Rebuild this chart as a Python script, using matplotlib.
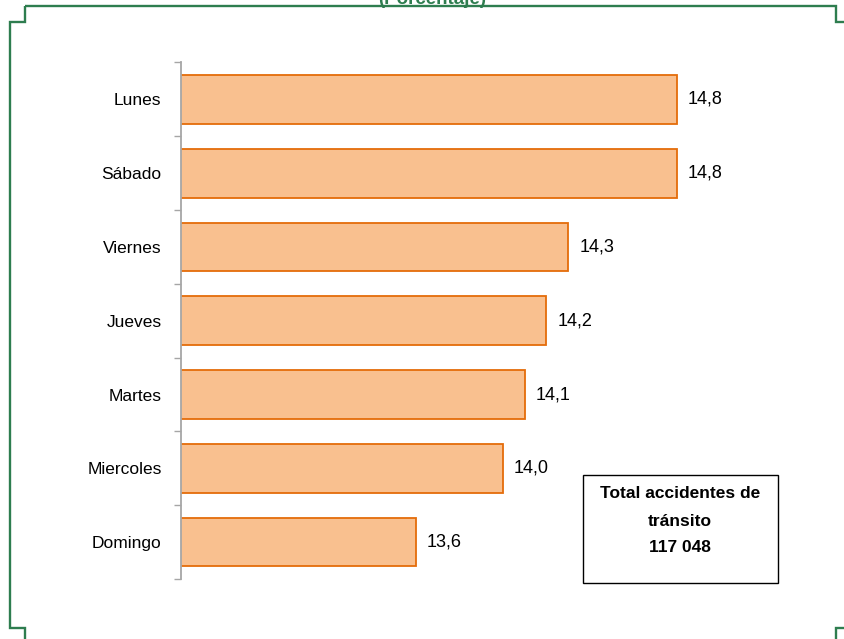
import matplotlib
matplotlib.use("Agg")
import matplotlib.pyplot as plt
from matplotlib.lines import Line2D
from matplotlib.patches import Rectangle

plt.rcParams['font.family'] = ['Liberation Sans', 'DejaVu Sans']

# data
days = ["Lunes", "Sábado", "Viernes", "Jueves", "Martes", "Miercoles", "Domingo"]
values = [14.8, 14.8, 14.3, 14.2, 14.1, 14.0, 13.6]
value_labels = ["14,8", "14,8", "14,3", "14,2", "14,1", "14,0", "13,6"]
subtitle = "(Porcentaje)"
box_lines = ["Total accidentes de", "tránsito", "117 048"]

W, H = 844, 639
GREEN = "#2E7D4F"
BAR_FILL = "#F9C08F"
BAR_EDGE = "#E46C0A"
AXIS_GRAY = "#A6A6A6"

def fx(px):
    return px / W

def fy(py):
    return 1 - py / H

fig = plt.figure(figsize=(W / 100, H / 100), dpi=100)
ax = fig.add_axes([fx(181), fy(579), fx(790) - fx(181), fy(62.5) - fy(579)])

pos = list(range(len(days)))
ax.barh(pos, values, height=0.66, left=0, color=BAR_FILL, edgecolor=BAR_EDGE, linewidth=1.3)
ax.set_xlim(12.52, 15.32)
ax.set_ylim(len(days) - 0.5, -0.5)

for p, v, lab in zip(pos, values, value_labels):
    ax.annotate(lab, (v, p), xytext=(8, 0), textcoords="offset points",
                ha="left", va="center", fontsize=13)

ax.set_yticks(pos)
ax.set_yticklabels(days, fontsize=12.5)
ax.tick_params(axis="y", which="major", length=0, pad=14)
ax.set_yticks([i - 0.5 for i in range(len(days) + 1)], minor=True)
ax.tick_params(axis="y", which="minor", length=5, width=1, color=AXIS_GRAY, direction="out")
ax.set_xticks([])
for s in ["top", "right", "bottom"]:
    ax.spines[s].set_visible(False)
ax.spines["left"].set_color(AXIS_GRAY)
ax.spines["left"].set_linewidth(1.3)

# boxed total
fig.patches.append(Rectangle((fx(583), fy(583)), fx(778) - fx(583), fy(475) - fy(583),
                             transform=fig.transFigure, facecolor="white",
                             edgecolor="black", linewidth=1.0))
for txt, py in zip(box_lines, [494, 521, 547]):
    fig.text(fx(680), fy(py), txt, ha="center", va="center", fontsize=12.5, fontweight="bold")

# green frame with stepped corners
frame_kw = dict(color=GREEN, linewidth=1.7, transform=fig.transFigure,
                solid_joinstyle="miter", solid_capstyle="butt")
fig.lines.append(Line2D([fx(25), fx(836), fx(836), fx(844)],
                        [fy(6), fy(6), fy(22), fy(22)], **frame_kw))
fig.lines.append(Line2D([fx(25), fx(25), fx(10), fx(10), fx(25), fx(25)],
                        [fy(6), fy(22), fy(22), fy(628), fy(628), fy(640)], **frame_kw))
fig.lines.append(Line2D([fx(844), fx(836), fx(836)],
                        [fy(628), fy(628), fy(640)], **frame_kw))

# subtitle, cut off at the top edge as in the source image
fig.text(fx(432), fy(4), subtitle, ha="center", va="baseline", fontsize=13.5,
         fontweight="bold", color=GREEN)

fig.savefig("out.png", dpi=100, facecolor="white")
